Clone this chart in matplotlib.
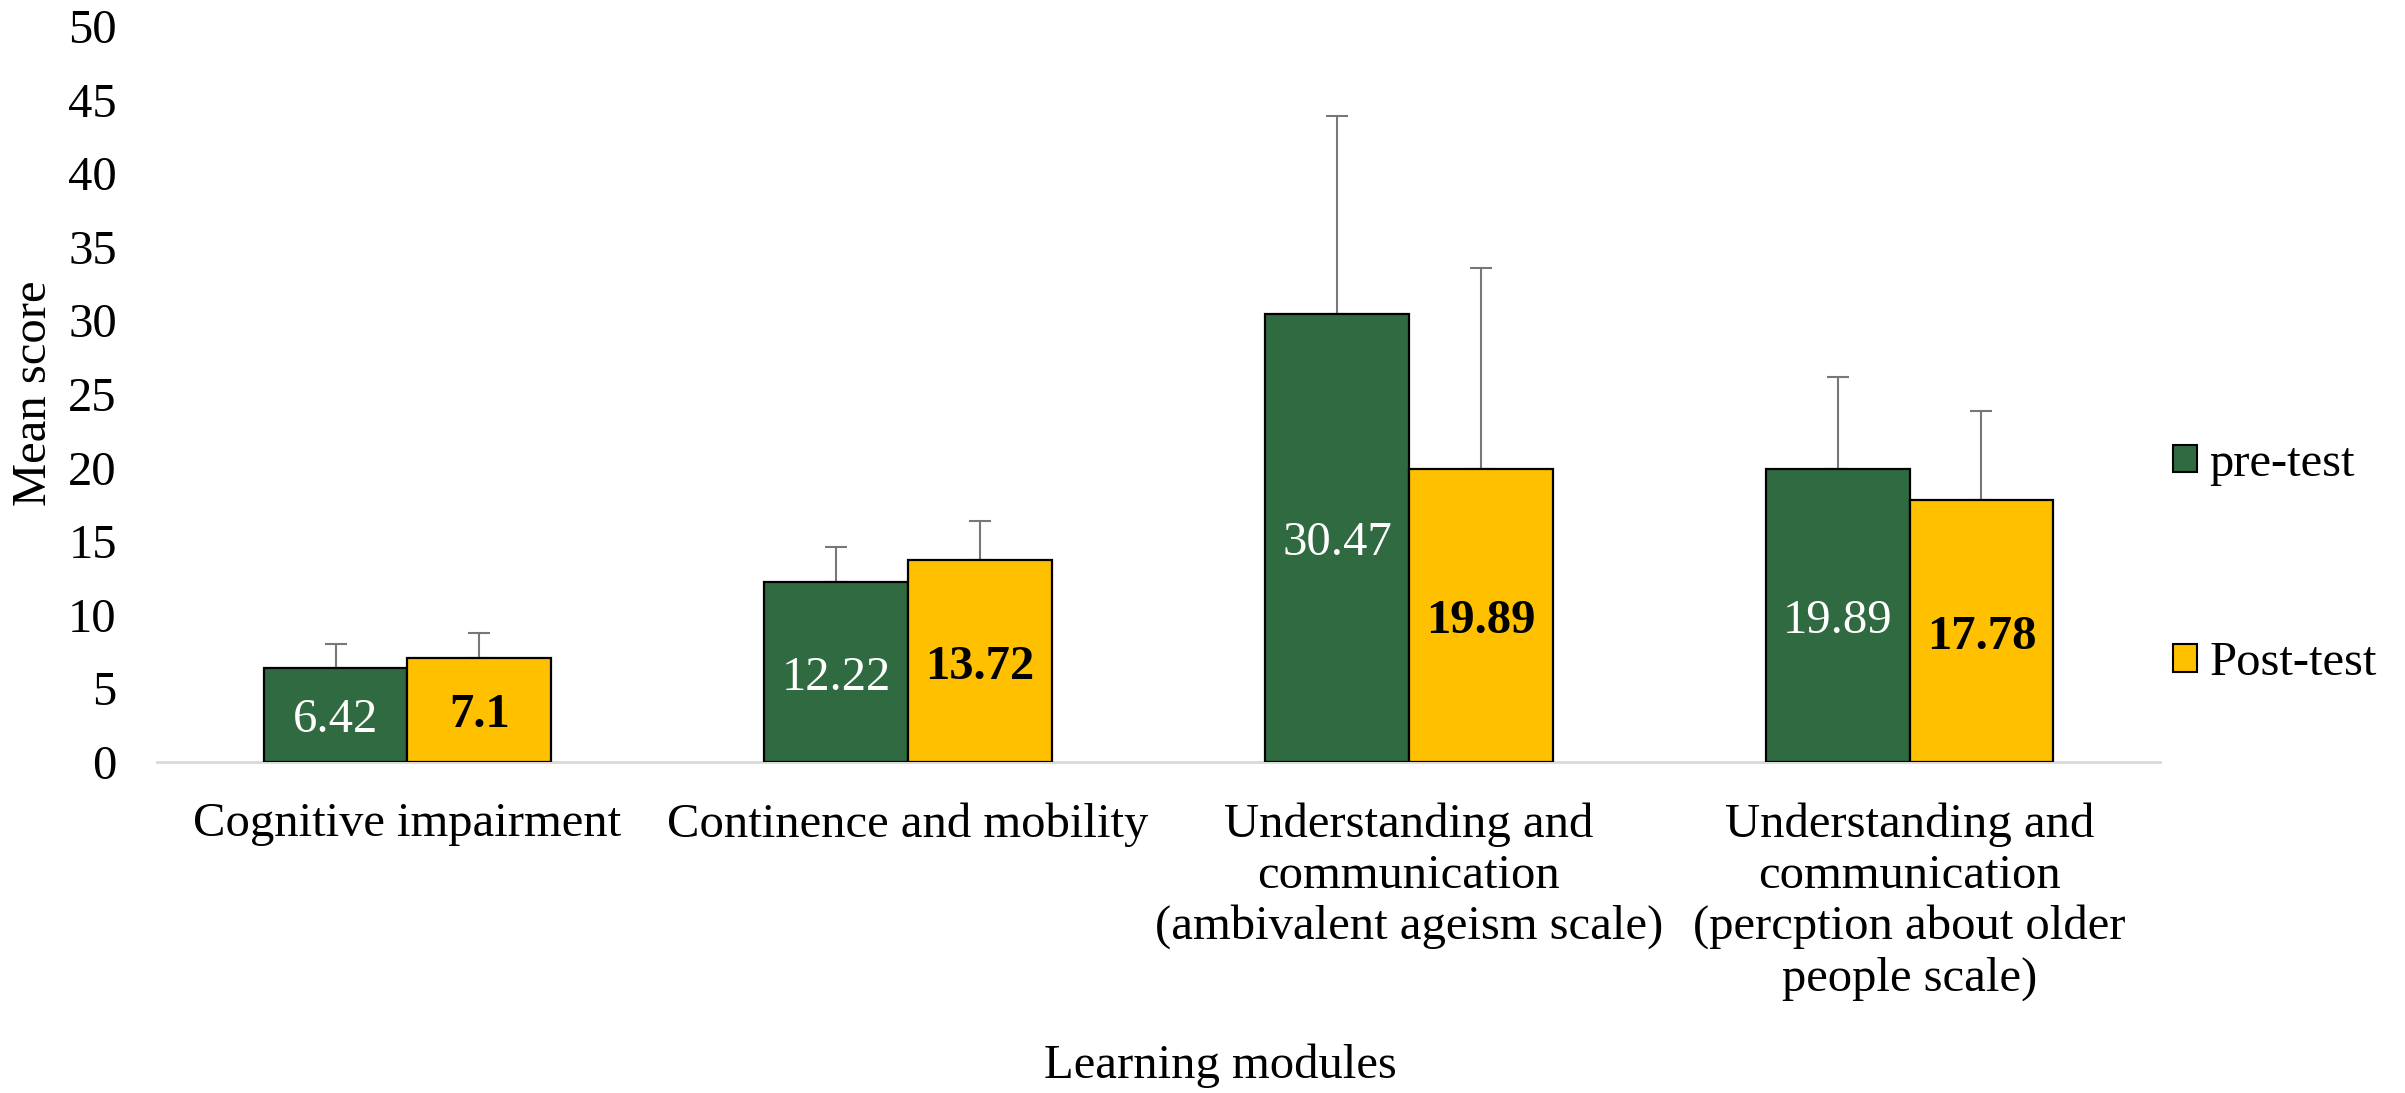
import matplotlib
matplotlib.use("Agg")
import matplotlib.pyplot as plt
import numpy as np
from matplotlib.patches import Patch

plt.rcParams['font.family'] = ['Liberation Serif', 'DejaVu Serif']

categories = ["Cognitive impairment", "Continence and mobility",
              "Understanding and\ncommunication\n(ambivalent ageism scale)",
              "Understanding and\ncommunication\n(percption about older\npeople scale)"]
pre_values = [6.42, 12.22, 30.47, 19.89]
post_values = [7.1, 13.72, 19.89, 17.78]
pre_sd = [1.62, 2.38, 13.45, 6.3]
post_sd = [1.65, 2.68, 13.7, 6.05]
series_names = ["pre-test", "Post-test"]
yticks = [0, 5, 10, 15, 20, 25, 30, 35, 40, 45, 50]

GREEN = "#306A40"
GOLD = "#FFC000"
ERR = "#777777"
FS = 35

fig = plt.figure(figsize=(24.05, 10.93), dpi=100)
ax = fig.add_axes([0.0653, 0.3028, 0.8328, 0.6734])

x = np.arange(len(categories))
w = 0.287
ax.bar(x - w/2, pre_values, w, color=GREEN, edgecolor="black", linewidth=1.6, zorder=3)
ax.bar(x + w/2, post_values, w, color=GOLD, edgecolor="black", linewidth=1.6, zorder=3)
ax.errorbar(x - w/2, pre_values, yerr=[np.zeros(len(pre_sd)), pre_sd], fmt="none",
            ecolor=ERR, elinewidth=1.5, capsize=8, capthick=1.5, zorder=2)
ax.errorbar(x + w/2, post_values, yerr=[np.zeros(len(post_sd)), post_sd], fmt="none",
            ecolor=ERR, elinewidth=1.5, capsize=8, capthick=1.5, zorder=2)

for xi, v in zip(x - w/2, pre_values):
    ax.annotate(f"{v:g}", (xi, v/2), xytext=(0, -4), textcoords="offset points",
                ha="center", va="center", color="white", fontsize=FS, zorder=4)
for xi, v in zip(x + w/2, post_values):
    ax.annotate(f"{v:g}", (xi, v/2), xytext=(0, -4), textcoords="offset points",
                ha="center", va="center", color="black", fontsize=FS,
                fontweight="bold", zorder=4)

ax.set_xlim(-0.5, len(categories) - 0.5)
ax.set_ylim(0, 50)
ax.set_yticks(yticks)
ax.set_yticklabels([str(t) for t in yticks], fontsize=FS)
ax.set_xticks(x)
ax.set_xticklabels(categories, fontsize=FS, linespacing=1.2)
ax.tick_params(axis="x", length=0, pad=29)
ax.tick_params(axis="y", length=0, pad=29)
for s in ["top", "right", "left"]:
    ax.spines[s].set_visible(False)
ax.spines["bottom"].set_color("#D9D9D9")
ax.spines["bottom"].set_linewidth(2)

fig.text(34/2405, 1 - 393/1093, "Mean score", rotation=90, ha="center", va="center", fontsize=FS)
fig.text(1220/2405, 1 - 1066/1093, "Learning modules", ha="center", va="center", fontsize=FS)

handles = [Patch(facecolor=GREEN, edgecolor="black", linewidth=1.5),
           Patch(facecolor=GOLD, edgecolor="black", linewidth=1.5)]
fig.legend(handles, series_names, loc="center left", bbox_to_anchor=(0.9035, 0.4845),
           frameon=False, fontsize=FS, handlelength=0.5, handleheight=0.5,
           handletextpad=0.25, labelspacing=3.2, borderpad=0, borderaxespad=0)

fig.savefig("out.png", dpi=100)
